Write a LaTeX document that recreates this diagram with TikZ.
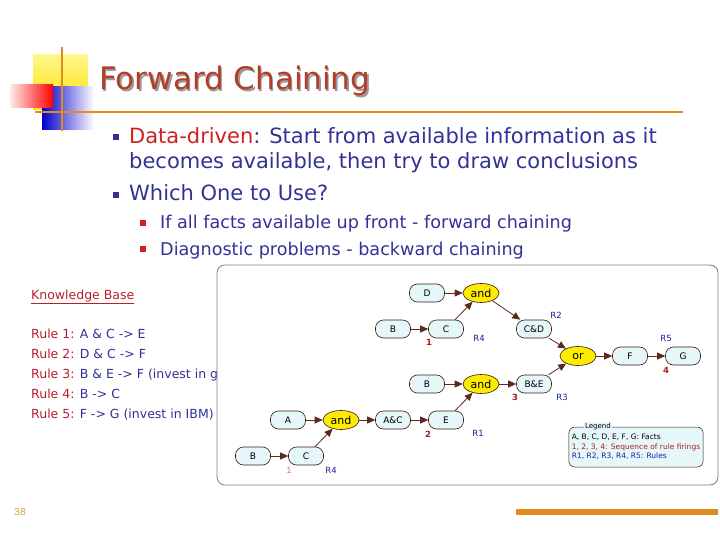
\documentclass[tikz,border=0pt]{standalone}
\usepackage{fontspec}
\setmainfont{DejaVu Sans}
\usetikzlibrary{arrows.meta,shapes.geometric}

\definecolor{titlered}{RGB}{178,62,40}
\definecolor{navy}{RGB}{50,50,150}
\definecolor{hotred}{RGB}{205,32,32}
\definecolor{rulered}{RGB}{185,30,45}
\definecolor{orangeline}{RGB}{224,140,35}
\definecolor{factfill}{RGB}{230,247,250}
\definecolor{gateyellow}{RGB}{255,235,0}
\definecolor{arrowbrown}{RGB}{95,40,32}
\definecolor{seqred}{RGB}{170,30,30}
\definecolor{ruleblue}{RGB}{30,30,160}
\definecolor{boxgray}{RGB}{125,125,125}
\definecolor{pagegold}{RGB}{200,150,50}

\tikzset{
  fact/.style={draw=arrowbrown!60!black, fill=factfill, rounded corners=8pt,
    minimum width=35pt, minimum height=18pt, inner sep=1pt, line width=0.6pt,
    font=\fontsize{9}{10}\selectfont},
  gate/.style={ellipse, draw=arrowbrown!60!black, fill=gateyellow, line width=0.6pt,
    minimum width=36pt, minimum height=19pt, inner sep=0pt,
    font=\fontsize{11}{12}\selectfont},
  flow/.style={draw=arrowbrown, line width=0.8pt, -{Triangle[length=8pt,width=7pt]}},
  seq/.style={text=seqred, font=\bfseries\fontsize{8.5}{9}\selectfont, inner sep=0pt},
  rulelbl/.style={text=ruleblue, font=\fontsize{8.5}{9}\selectfont, inner sep=0pt},
  kbline/.style={anchor=base west, inner sep=0pt, text=navy,
    font=\fontsize{12.5}{13}\selectfont},
  bodyline/.style={anchor=base west, inner sep=0pt, text=navy},
}

\begin{document}
\begin{tikzpicture}[x=1pt,y=-1pt]
  \useasboundingbox (0,0) rectangle (720,540);

  % corner decoration
  \shade[top color=gateyellow!45!white, bottom color=gateyellow!90!orange] (33,55) rectangle (88,110);
  \shade[left color=blue!80!black, right color=white] (42,87) rectangle (94,130);
  \shade[left color=red!8!white, right color=red] (10,85) rectangle (53,108);
  \draw[orangeline, line width=2pt] (62,47) -- (62,131);
  \draw[orangeline, line width=2.5pt] (35,112) -- (683,112);

  % title
  \node[anchor=base west, inner sep=0pt, text=black!40, font=\fontsize{31}{33}\selectfont]
    at (100.5,91.5) {Forward Chaining};
  \node[anchor=base west, inner sep=0pt, text=titlered, font=\fontsize{31}{33}\selectfont]
    (title) at (99,90) {Forward Chaining};

  % bullets
  \fill[navy] (113,134) rectangle (119,140);
  \fill[navy] (113,192) rectangle (119,198);
  \fill[hotred] (140,220) rectangle (146,226);
  \fill[hotred] (140,246) rectangle (146,252);
  \begin{scope}[font=\fontsize{21}{25}\selectfont]
    \node[bodyline] (dd) at (129,144) {\textcolor{hotred}{Data-driven}: Start from available information as it};
    \node[bodyline] (dd2) at (129,169) {becomes available, then try to draw conclusions};
    \node[bodyline] (which) at (129,201) {Which One to Use?};
  \end{scope}
  \begin{scope}[font=\fontsize{17.6}{21}\selectfont]
    \node[bodyline] (fwd) at (160,229) {If all facts available up front - forward chaining};
    \node[bodyline] (bwd) at (160,255) {Diagnostic problems - backward chaining};
  \end{scope}

  % knowledge base
  \node[kbline, text=rulered] (kb) at (31,299) {\underline{Knowledge Base}};
  \node[kbline] (r1) at (31,338) {\textcolor{rulered}{Rule 1:} A \& C -> E};
  \node[kbline] (r2) at (31,358) {\textcolor{rulered}{Rule 2:} D \& C -> F};
  \node[kbline] (r3) at (31,378) {\textcolor{rulered}{Rule 3:} B \& E -> F (invest in g};
  \node[kbline] (r4) at (31,398) {\textcolor{rulered}{Rule 4:} B -> C};
  \node[kbline] (r5) at (31,418) {\textcolor{rulered}{Rule 5:} F -> G (invest in IBM)};

  % inference diagram
  \draw[boxgray, line width=0.8pt, fill=white, rounded corners=8pt] (217,265) rectangle (718,485);

  \node[fact] (d1) at (427,293) {D};
  \node[gate] (and1) at (481,293) {and};
  \node[fact] (b1) at (393,329) {B};
  \node[fact] (c1) at (446,329) {C};
  \node[fact] (cd) at (534,329) {C\&D};
  \node[gate] (or) at (578,356) {or};
  \node[fact] (f) at (630,356) {F};
  \node[fact] (g) at (683,356) {G};
  \node[fact] (b2) at (427,384) {B};
  \node[gate] (and2) at (481,384) {and};
  \node[fact] (be) at (534,384) {B\&E};
  \node[fact] (a) at (288,420) {A};
  \node[gate] (and3) at (341,420) {and};
  \node[fact] (ac) at (393,420) {A\&C};
  \node[fact] (e) at (446,420) {E};
  \node[fact] (b3) at (253,456) {B};
  \node[fact] (c3) at (306,456) {C};

  \draw[flow] (d1) -- (and1);
  \draw[flow] (b1) -- (c1);
  \draw[flow] (c1) -- (and1);
  \draw[flow] (and1) -- (cd);
  \draw[flow] (cd) -- (or);
  \draw[flow] (be) -- (or);
  \draw[flow] (or) -- (f);
  \draw[flow] (f) -- (g);
  \draw[flow] (b2) -- (and2);
  \draw[flow] (e) -- (and2);
  \draw[flow] (and2) -- (be);
  \draw[flow] (a) -- (and3);
  \draw[flow] (c3) -- (and3);
  \draw[flow] (and3) -- (ac);
  \draw[flow] (ac) -- (e);
  \draw[flow] (b3) -- (c3);

  \node[seq] (s1) at (429,342) {1};
  \node[rulelbl] (l4) at (479,338) {R4};
  \node[rulelbl] (l2) at (556,315) {R2};
  \node[rulelbl] (l5) at (666,338) {R5};
  \node[seq] (s4) at (666,370) {4};
  \node[seq] (s3) at (515,397) {3};
  \node[rulelbl] (l3) at (562,397) {R3};
  \node[seq] (s2) at (428,434) {2};
  \node[rulelbl] (l1) at (478,433) {R1};
  \node[seq, text=seqred!60!white, font=\fontsize{8.5}{9}\selectfont] (s1b) at (289,470) {1};
  \node[rulelbl] (l4b) at (331,470) {R4};

  % legend
  \node[draw=arrowbrown!60!black, fill=factfill, rounded corners=6pt, line width=0.5pt,
    minimum width=132pt, minimum height=40pt, inner sep=3pt, align=left,
    font=\fontsize{7.5}{9.5}\selectfont] (legend) at (636,447)
    {A, B, C, D, E, F, G: Facts\\
     \textcolor{seqred}{1, 2, 3, 4: Sequence of rule firings}\\
     \textcolor{ruleblue}{R1, R2, R3, R4, R5: Rules}};
  \node[fill=factfill, inner sep=1.5pt, font=\fontsize{7}{8}\selectfont] (legendtitle)
    at (598,427) {Legend};

  % footer
  \node[text=pagegold, font=\ttfamily\fontsize{11.5}{12}\selectfont] (page) at (20,512) {38};
  \fill[orangeline] (516,509) rectangle (718,515);
\end{tikzpicture}
\end{document}
